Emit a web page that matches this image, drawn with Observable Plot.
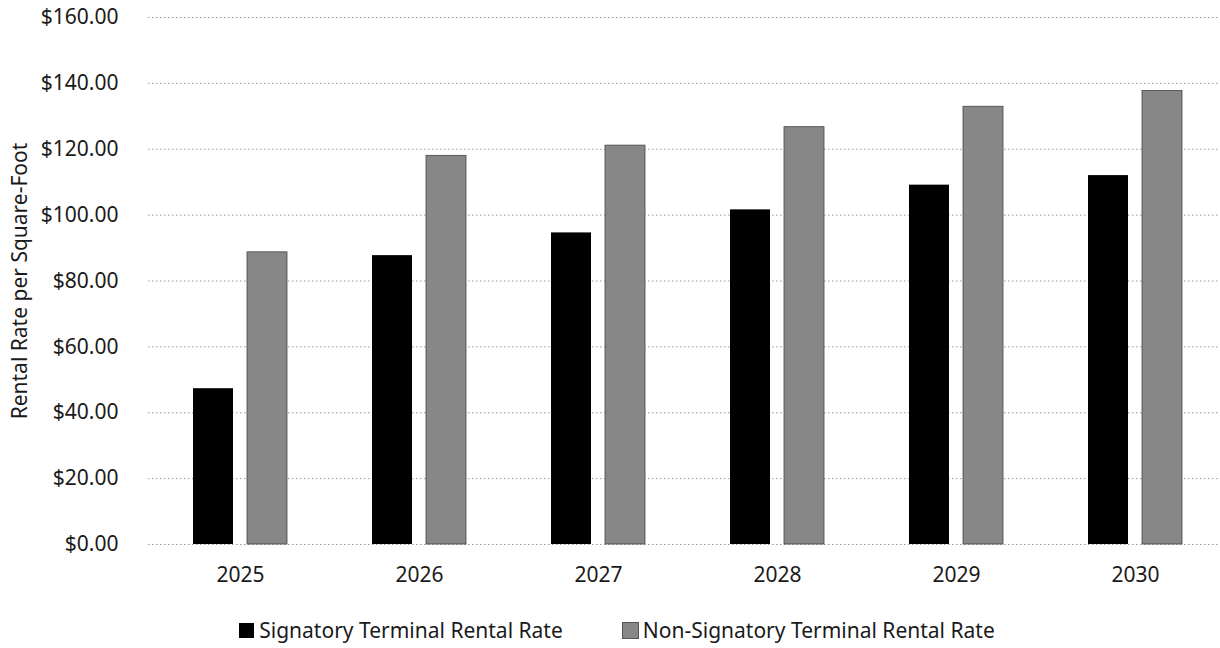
<!DOCTYPE html>
<html>
<head>
<meta charset="utf-8">
<script src="https://cdn.jsdelivr.net/npm/d3@7"></script>
<script src="https://cdn.jsdelivr.net/npm/@observablehq/plot@0.6"></script>
<style>
  html, body { margin: 0; padding: 0; background: #fff; }
  body { width: 1220px; height: 648px; overflow: hidden; font-family: "Noto Sans", "Open Sans", sans-serif; color: #1a1a1a; }
  #legend { display: flex; justify-content: center; gap: 60px; font-size: 21px; margin-top: 16px; padding-left: 14px; }
  #legend .item { display: flex; align-items: center; gap: 5px; }
  #legend .swatch { width: 15px; height: 15px; display: inline-block; }
</style>
</head>
<body>
<div id="chart"></div>
<div id="legend"></div>
<script>
// Terminal rental rates per square foot, by year
const years = ["2025", "2026", "2027", "2028", "2029", "2030"];
const signatory = [47.3, 87.7, 94.6, 101.6, 109.1, 112.0];
const nonSignatory = [88.7, 118.0, 121.1, 126.7, 132.9, 137.7];
const yTicks = [0, 20, 40, 60, 80, 100, 120, 140, 160];
const seriesNames = ["Signatory Terminal Rental Rate", "Non-Signatory Terminal Rental Rate"];
const seriesColors = ["#000000", "#878787"];

const sigRows = years.map((year, i) => ({year, value: signatory[i]}));
const nonRows = years.map((year, i) => ({year, value: nonSignatory[i]}));

const money = d => "$" + d.toFixed(2);

const plot = Plot.plot({
  width: 1220,
  height: 600,
  marginTop: 17,
  marginBottom: 56,
  marginLeft: 148,
  marginRight: 0,
  style: {fontFamily: "'Noto Sans', 'Open Sans', sans-serif", fontSize: "21px", color: "#1a1a1a", background: "#fff"},
  x: {domain: years, range: [148, 1227], paddingInner: 0.4775, paddingOuter: 0.23875},
  y: {domain: [0, 160]},
  marks: [
    Plot.gridY(yTicks, {stroke: "#999", strokeOpacity: 1, strokeDasharray: "1.5,2.5", strokeWidth: 1}),
    Plot.barY(sigRows, {x: "year", y: "value", fill: seriesColors[0], insetRight: 54}),
    Plot.barY(nonRows, {x: "year", y: "value", fill: seriesColors[1], stroke: "#444", strokeWidth: 0.8, insetLeft: 54}),
    Plot.axisY(yTicks, {tickFormat: money, tickSize: 0, tickPadding: 30, label: "Rental Rate per Square-Foot", labelAnchor: "center", labelArrow: "none", labelOffset: 136, fontSize: 21}),
    Plot.axisX({tickSize: 0, tickPadding: 23, label: null, fontSize: 21})
  ]
});
document.getElementById("chart").appendChild(plot);

// Legend below the chart
const legend = document.getElementById("legend");
seriesNames.forEach((name, i) => {
  const item = document.createElement("div");
  item.className = "item";
  const sw = document.createElement("span");
  sw.className = "swatch";
  sw.style.background = seriesColors[i];
  if (i === 1) sw.style.outline = "1px solid #555";
  const label = document.createElement("span");
  label.textContent = name;
  item.appendChild(sw);
  item.appendChild(label);
  legend.appendChild(item);
});
</script>
</body>
</html>
